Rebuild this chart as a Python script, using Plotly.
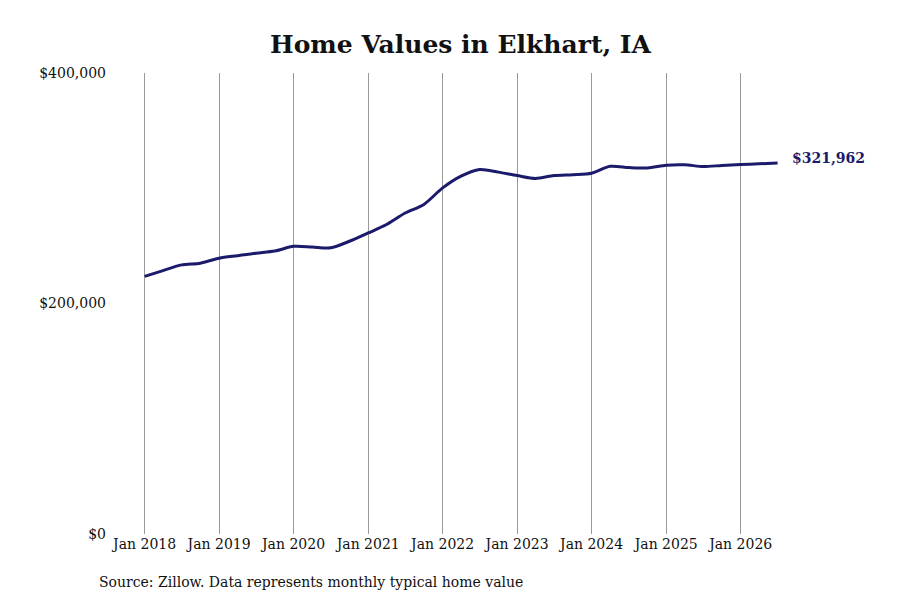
import plotly.graph_objects as go

# quarterly typical home value
dates = ['2018-01-01', '2018-04-01', '2018-07-01', '2018-10-01',
         '2019-01-01', '2019-04-01', '2019-07-01', '2019-10-01',
         '2020-01-01', '2020-04-01', '2020-07-01', '2020-10-01',
         '2021-01-01', '2021-04-01', '2021-07-01', '2021-10-01',
         '2022-01-01', '2022-04-01', '2022-07-01', '2022-10-01',
         '2023-01-01', '2023-04-01', '2023-07-01', '2023-10-01',
         '2024-01-01', '2024-04-01', '2024-07-01', '2024-10-01',
         '2025-01-01', '2025-04-01', '2025-07-01', '2025-10-01',
         '2026-01-01', '2026-04-01', '2026-07-01']
values = [223500, 228500, 233500, 235000,
          239300, 241500, 243700, 245500,
          249600, 249000, 248300, 254000,
          261200, 268500, 278500, 286000,
          300300, 310500, 316300, 314000,
          311000, 308500, 311000, 311800,
          313000, 319000, 318000, 317600,
          320000, 320400, 318800, 319800,
          320600, 321200, 321962]

y_ticks = [0, 200000, 400000]
y_labels = ['$0', '$200,000', '$400,000']

navy = '#1b1a6b'
font = 'DejaVu Serif'

fig = go.Figure(go.Scatter(x=dates, y=values, mode='lines',
                           line=dict(color=navy, width=3, shape='spline', smoothing=0.8),
                           hoverinfo='skip'))

# page body adds 8px, so margins are shifted by that
fig.update_layout(
    width=900, height=600,
    paper_bgcolor='white', plot_bgcolor='white',
    margin=dict(l=135, r=130, t=65, b=74),
    showlegend=False,
    font=dict(family=font, size=14, color='#111'),
    title=dict(text='<b>Home Values in Elkhart, IA</b>', x=0.5, xref='paper',
               y=1 - 36 / 600, yanchor='middle',
               font=dict(family=font, size=25, color='#111')),
    xaxis=dict(type='date', range=['2017-12-24', '2026-07-03'],
               tick0='2018-01-01', dtick='M12', tickformat='%b %Y',
               showgrid=True, gridcolor='#9a9a9a', gridwidth=1,
               zeroline=False, showline=False, ticks='',
               tickfont=dict(size=14)),
    yaxis=dict(range=[0, 400000], tickvals=y_ticks, ticktext=y_labels,
               showgrid=False, zeroline=False, showline=False, ticks='',
               ticklabelstandoff=36, tickfont=dict(size=14)),
    annotations=[
        dict(x=dates[-1], y=values[-1], xref='x', yref='y',
             text='<b>$%s</b>' % format(values[-1], ','), showarrow=False,
             xanchor='left', xshift=12, yshift=5, font=dict(size=14, color=navy)),
        dict(x=(89 - 135) / 635, y=(526 - 574) / 461, xref='paper', yref='paper',
             text='Source: Zillow. Data represents monthly typical home value',
             showarrow=False, xanchor='left', yanchor='middle',
             font=dict(size=14, color='#111')),
    ],
)

fig.write_html('out.html')
